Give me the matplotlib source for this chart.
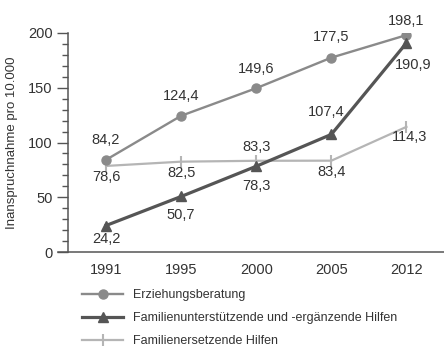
import numpy as np
import matplotlib
matplotlib.use('Agg')
import matplotlib.pyplot as plt
from matplotlib.ticker import MultipleLocator

plt.rcParams['font.family'] = ['Liberation Sans', 'DejaVu Sans']

jahre = ['1991', '1995', '2000', '2005', '2012']
erziehungsberatung = [84.2, 124.4, 149.6, 177.5, 198.1]
unterstuetzend = [24.2, 50.7, 78.3, 107.4, 190.9]
ersetzend = [78.6, 82.5, 83.3, 83.4, 114.3]

serien_namen = ['Erziehungsberatung',
                'Familienunterstützende und -ergänzende Hilfen',
                'Familienersetzende Hilfen']

# label offsets in points (dx, dy) for each value
off_erz = [(0, 14), (0, 14), (0, 14), (0, 15), (0, 10)]
off_unt = [(0, -10), (0, -13), (0, -14.5), (-4, 16), (5, -16)]
off_ers = [(0, -8), (0, -8), (0, 10), (0, -8), (2, -7.5)]

x = np.arange(len(jahre))

fig = plt.figure(figsize=(4.44, 3.49), dpi=100)
ax = fig.add_axes([58 / 444, 1 - 252 / 349, 1 - 58 / 444, 219 / 349])

c_erz = '#8a8a8a'
c_unt = '#555555'
c_ers = '#b5b5b5'
txt = '#333333'

ax.plot(x, erziehungsberatung, color=c_erz, lw=1.7, marker='o', ms=6.5,
        label=serien_namen[0], zorder=3)
ax.plot(x, unterstuetzend, color=c_unt, lw=2.3, marker='^', ms=7,
        label=serien_namen[1], zorder=4)
ax.plot(x, ersetzend, color=c_ers, lw=1.6, marker='|', ms=8, mew=1.5,
        label=serien_namen[2], zorder=2)

for vals, offs in [(erziehungsberatung, off_erz), (unterstuetzend, off_unt),
                   (ersetzend, off_ers)]:
    for xi, v, (dx, dy) in zip(x, vals, offs):
        ax.annotate(f'{v:.1f}'.replace('.', ','), (xi, v), xytext=(dx, dy),
                    textcoords='offset points', ha='center', va='center',
                    fontsize=10.5, color=txt)

ax.set_xlim(-0.64, 4.5)
ax.set_ylim(0, 200)
ax.set_xticks(x)
ax.set_xticklabels(jahre)
ax.yaxis.set_major_locator(MultipleLocator(50))
ax.yaxis.set_minor_locator(MultipleLocator(10))
ax.tick_params(axis='x', length=0, pad=8, labelsize=10.5, colors=txt)
ax.tick_params(axis='y', which='major', length=8, width=1, pad=3,
               labelsize=10.5, colors='#555555', labelcolor=txt)
ax.tick_params(axis='y', which='minor', length=4, width=1, colors='#555555')

for s in ['top', 'right']:
    ax.spines[s].set_visible(False)
ax.spines['left'].set_position(('data', -0.507))
ax.spines['left'].set_color('#555555')
ax.spines['bottom'].set_color('#555555')
ax.spines['left'].set_linewidth(1.1)
ax.spines['bottom'].set_linewidth(1.1)

ax.set_ylabel('Inanspruchnahme pro 10.000', fontsize=9.5, color=txt)
ax.yaxis.set_label_coords((18 - 58) / 386, 0.5)

fig.legend(loc='upper left', bbox_to_anchor=(82 / 444, 1 - 289 / 349),
           frameon=False, fontsize=9, handlelength=3.3, handletextpad=0.75,
           labelspacing=0.9, borderpad=0, borderaxespad=0,
           labelcolor=txt)

fig.savefig('out.png', dpi=100)
